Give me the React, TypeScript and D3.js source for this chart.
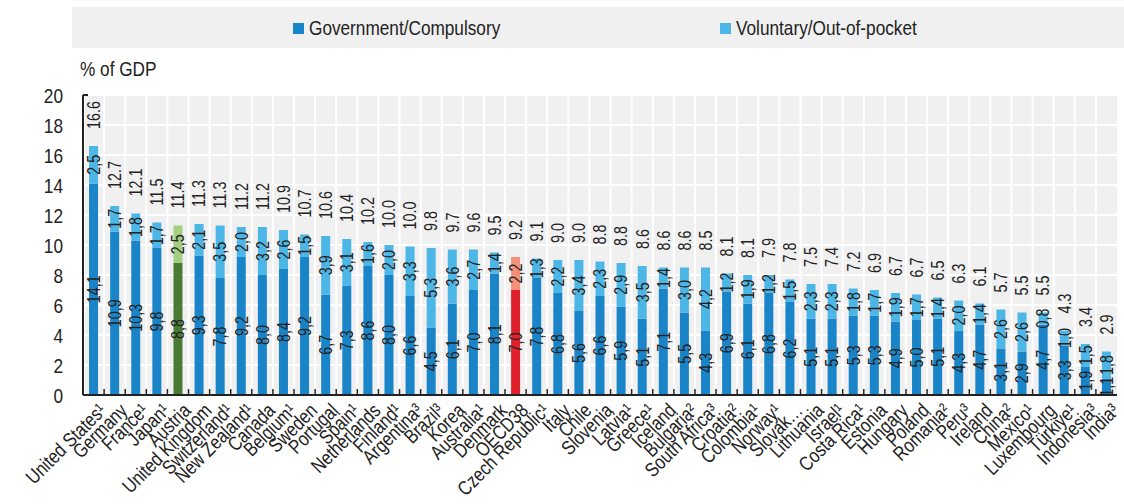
import React from 'react';
import * as d3 from 'd3';

// countries in chart order
const countries = [
  'United States¹', 'Germany', 'France¹', 'Japan¹', 'Austria', 'United Kingdom', 'Switzerland¹',
  'New Zealand¹', 'Canada', 'Belgium¹', 'Sweden', 'Portugal', 'Spain¹', 'Netherlands', 'Finland¹',
  'Argentina³', 'Brazil³', 'Korea', 'Australia¹', 'Denmark', 'OECD38', 'Czech Republic¹', 'Italy',
  'Chile', 'Slovenia', 'Latvia¹', 'Greece¹', 'Iceland', 'Bulgaria²', 'South Africa³', 'Croatia²',
  'Colombia¹', 'Norway¹', 'Slovak…', 'Lithuania', 'Israel¹', 'Costa Rica¹', 'Estonia', 'Hungary',
  'Poland', 'Romania²', 'Peru³', 'Ireland', 'China²', 'Mexico¹', 'Luxembourg', 'Türkiye¹',
  'Indonesia³', 'India³'
];

// Government/Compulsory
const govValues = [
  14.1, 10.9, 10.3, 9.8, 8.8, 9.3, 7.8, 9.2, 8.0, 8.4, 9.2, 6.7, 7.3, 8.6, 8.0,
  6.6, 4.5, 6.1, 7.0, 8.1, 7.0, 7.8, 6.8, 5.6, 6.6, 5.9, 5.1, 7.1, 5.5, 4.3, 6.9,
  6.1, 6.8, 6.2, 5.1, 5.1, 5.3, 5.3, 4.9, 5.0, 5.1, 4.3, 4.7, 3.1, 2.9, 4.7, 3.3,
  1.9, 1.1
];

// Voluntary/Out-of-pocket
const volValues = [
  2.5, 1.7, 1.8, 1.7, 2.5, 2.1, 3.5, 2.0, 3.2, 2.6, 1.5, 3.9, 3.1, 1.6, 2.0,
  3.3, 5.3, 3.6, 2.7, 1.4, 2.2, 1.3, 2.2, 3.4, 2.3, 2.9, 3.5, 1.4, 3.0, 4.2, 1.2,
  1.9, 1.2, 1.5, 2.3, 2.3, 1.8, 1.7, 1.9, 1.7, 1.4, 2.0, 1.4, 2.6, 2.6, 0.8, 1.0,
  1.5, 1.8
];

const totalValues = [
  16.6, 12.7, 12.1, 11.5, 11.4, 11.3, 11.3, 11.2, 11.2, 10.9, 10.7, 10.6, 10.4, 10.2, 10.0,
  10.0, 9.8, 9.7, 9.6, 9.5, 9.2, 9.1, 9.0, 9.0, 8.8, 8.8, 8.6, 8.6, 8.6, 8.5, 8.1,
  8.1, 7.9, 7.8, 7.5, 7.4, 7.2, 6.9, 6.7, 6.7, 6.5, 6.3, 6.1, 5.7, 5.5, 5.5, 4.3,
  3.4, 2.9
];

const yTicks = [0, 2, 4, 6, 8, 10, 12, 14, 16, 18, 20];
const seriesNames = ['Government/Compulsory', 'Voluntary/Out-of-pocket'];

// no narrow font installed, so squeeze Liberation Sans horizontally
const FONT = '"Liberation Sans", Arial, sans-serif';
const SQ = 0.82;

const colors: Record<string, [string, string]> = {
  default: ['#1985c8', '#4cb6e7'],
  Austria: ['#4a7b34', '#a4cf82'],
  OECD38: ['#e0202a', '#f4907a'],
};

export default function App() {
  const width = 1124;
  const height = 504;
  const left = 83, right = 1117, top = 95, bottom = 395;

  const x = d3.scaleBand<string>().domain(countries).range([left, right]).padding(0);
  const y = d3.scaleLinear().domain([0, 20]).range([bottom, top]);
  const bw = x.bandwidth();
  const barW = 9;
  const fmtSeg = (v: number) => v.toFixed(1).replace('.', ',');

  return (
    <svg width={width} height={height} style={{ position: 'absolute', left: 0, top: 0, fontFamily: FONT }}>
      {/* legend */}
      <rect x={72} y={7} width={width - 72} height={41} fill="#f0f0f0" />
      <rect x={293} y={23} width={11} height={11} fill={colors.default[0]} />
      <text transform={`translate(309,35) scale(${SQ},1)`} fontSize={21} fill="#222">{seriesNames[0]}</text>
      <rect x={720} y={23} width={11} height={11} fill={colors.default[1]} />
      <text transform={`translate(736,35) scale(${SQ},1)`} fontSize={21} fill="#222">{seriesNames[1]}</text>

      <text transform={`translate(80,76) scale(${SQ},1)`} fontSize={21} fill="#222">% of GDP</text>

      {/* plot background and grid */}
      <rect x={left + 2} y={top} width={right - left - 2} height={bottom - top} fill="#f0f0f0" />
      {yTicks.map(t => (
        <line key={'h' + t} x1={left} x2={right} y1={y(t)} y2={y(t)} stroke="#fff" strokeWidth={2} />
      ))}
      {countries.map((c, i) => i > 0 && (
        <line key={'v' + c} x1={x(c)!} x2={x(c)!} y1={top} y2={bottom} stroke="#fff" strokeWidth={2} />
      ))}

      {/* y tick labels */}
      {yTicks.map(t => (
        <text key={'yt' + t} transform={`translate(63,${y(t)}) scale(${SQ},1)`} dy="0.36em"
          textAnchor="end" fontSize={21} fill="#222">{t}</text>
      ))}

      {/* bars */}
      {countries.map((c, i) => {
        const col = colors[c] || colors.default;
        const cx = x(c)! + bw / 2;
        const g = govValues[i];
        const v = volValues[i];
        return (
          <g key={'b' + c}>
            <rect x={cx - barW / 2} y={y(g)} width={barW} height={y(0) - y(g)} fill={col[0]} />
            <rect x={cx - barW / 2} y={y(g + v)} width={barW} height={y(g) - y(g + v)} fill={col[1]} />
          </g>
        );
      })}

      {/* value labels */}
      {countries.map((c, i) => {
        const cx = x(c)! + bw / 2;
        const g = govValues[i];
        const v = volValues[i];
        const gy = (y(0) + y(g)) / 2;
        const vy = (y(g) + y(g + v)) / 2;
        const ty = y(g + v) - 17;
        return (
          <g key={'l' + c} fontSize={17.5} fill="#222">
            <text transform={`translate(${cx},${gy}) rotate(-90) scale(${SQ},1)`} textAnchor="middle" dy="0.36em">{fmtSeg(g)}</text>
            <text transform={`translate(${cx},${vy}) rotate(-90) scale(${SQ},1)`} textAnchor="middle" dy="0.36em">{fmtSeg(v)}</text>
            <text transform={`translate(${cx},${ty}) rotate(-90) scale(${SQ},1)`} textAnchor="start" dy="0.36em">{totalValues[i].toFixed(1)}</text>
          </g>
        );
      })}

      {/* axes */}
      <line x1={left} x2={left} y1={top} y2={bottom} stroke="#222" strokeWidth={2} />
      <line x1={left} x2={left + 5} y1={top} y2={top} stroke="#222" strokeWidth={2} />
      <line x1={left} x2={right} y1={bottom} y2={bottom} stroke="#222" strokeWidth={2} />
      {countries.map((c, i) => i > 0 && (
        <line key={'t' + c} x1={x(c)!} x2={x(c)!} y1={bottom - 6} y2={bottom} stroke="#222" strokeWidth={1.5} />
      ))}

      {/* x labels */}
      {countries.map(c => {
        const cx = x(c)! + bw / 2;
        return (
          <text key={'x' + c} transform={`translate(${cx + 4},${bottom + 7}) rotate(-45) scale(${SQ},1)`}
            textAnchor="end" dy="0.7em" fontSize={20} fill="#222">{c}</text>
        );
      })}
    </svg>
  );
}
